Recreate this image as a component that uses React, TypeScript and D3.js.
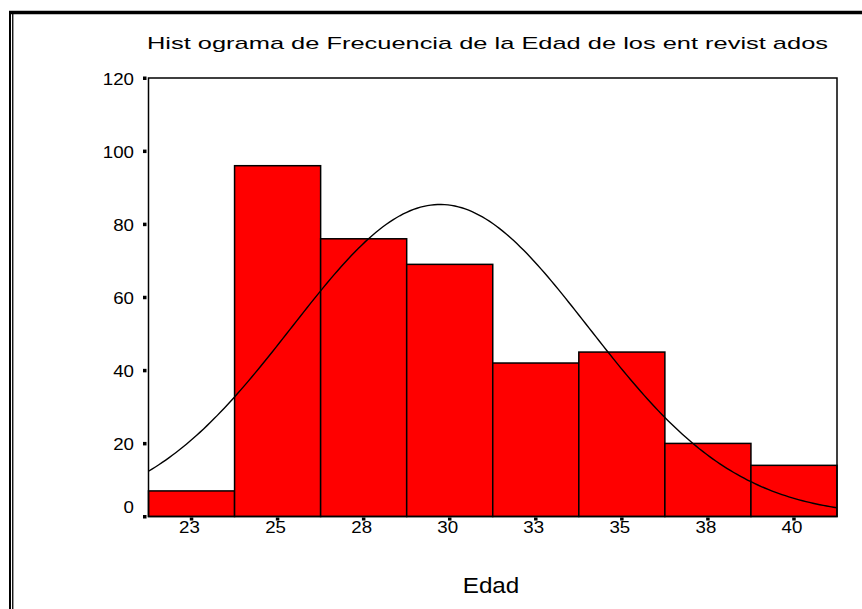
import React from "react";
import * as d3 from "d3";

const title = "Hist ograma de Frecuencia de la Edad de los ent revist ados";
const xTitle = "Edad";
const binStart = 21.25;
const binWidth = 2.5;
const binLabels = ["23", "25", "28", "30", "33", "35", "38", "40"];
const frequencies = [7, 96, 76, 69, 42, 45, 20, 14];
const yTicks = [0, 20, 40, 60, 80, 100, 120];
const fitMean = 29.72;
const fitSd = 4.31;

const W = 862;
const H = 609;
const plot = { left: 148.5, right: 837, top: 78, bottom: 516.5 };

export default function App() {
  const nBins = frequencies.length;
  const total = d3.sum(frequencies);
  const x = d3.scaleLinear().domain([binStart, binStart + nBins * binWidth]).range([plot.left, plot.right]);
  const y = d3.scaleLinear().domain([0, 120]).range([plot.bottom, plot.top]);

  const pdf = (v: number) =>
    (total * binWidth) / (fitSd * Math.sqrt(2 * Math.PI)) * Math.exp(-0.5 * ((v - fitMean) / fitSd) ** 2);
  const curvePts = d3.range(0, 201).map((i) => {
    const v = binStart + (i / 200) * nBins * binWidth;
    return [x(v), y(pdf(v))] as [number, number];
  });
  const line = d3.line().curve(d3.curveLinear)(curvePts) || "";

  const font = "Liberation Sans, Arial, sans-serif";

  return (
    <svg width={W} height={H} style={{ position: "absolute", left: 0, top: 0, background: "#fff" }} fontFamily={font}>
      <rect x={0} y={0} width={W} height={H} fill="#fff" />
      {/* outer frame */}
      <line x1={9} y1={12.5} x2={W} y2={12.5} stroke="#000" strokeWidth={3.5} />
      <line x1={10} y1={11} x2={10} y2={H} stroke="#000" strokeWidth={2} />
      <line x1={12.75} y1={14} x2={12.75} y2={H} stroke="#000" strokeWidth={1.3} />

      {/* title */}
      <text x={147} y={49.3} fontSize={17} textLength={681} lengthAdjust="spacingAndGlyphs" fill="#000">
        {title}
      </text>

      {/* bars */}
      {frequencies.map((f, i) => {
        const x0 = x(binStart + i * binWidth);
        const x1 = x(binStart + (i + 1) * binWidth);
        return (
          <rect key={i} x={x0} y={y(f)} width={x1 - x0} height={y(0) - y(f)} fill="#ff0000" stroke="#000" strokeWidth={1.5} />
        );
      })}

      {/* normal curve */}
      <path d={line} fill="none" stroke="#000" strokeWidth={1.4} />

      {/* plot frame */}
      <rect x={plot.left} y={plot.top} width={plot.right - plot.left} height={plot.bottom - plot.top} fill="none" stroke="#000" strokeWidth={1.5} />

      {/* y ticks */}
      {yTicks.map((t) => (
        <g key={t}>
          <rect x={143} y={y(t) - 1.5} width={3.5} height={3.5} fill="#000" />
          <text
            transform={`translate(134, ${t === 0 ? y(t) - 3.5 : y(t) + 7}) scale(1.17,1)`}
            fontSize={16}
            textAnchor="end"
            fill="#000"
          >
            {t}
          </text>
        </g>
      ))}

      {/* x ticks */}
      {binLabels.map((lab, i) => {
        const cx = x(binStart + (i + 0.5) * binWidth);
        return (
          <g key={lab + i}>
            <rect x={cx - 1.75} y={517.5} width={3.5} height={3} fill="#000" />
            <text transform={`translate(${cx - 2}, 532.5) scale(1.17,1)`} fontSize={16} textAnchor="middle" fill="#000">
              {lab}
            </text>
          </g>
        );
      })}

      {/* x title */}
      <text transform={`translate(491, 593) scale(1.1,1)`} fontSize={22} textAnchor="middle" fill="#000">
        {xTitle}
      </text>
    </svg>
  );
}
